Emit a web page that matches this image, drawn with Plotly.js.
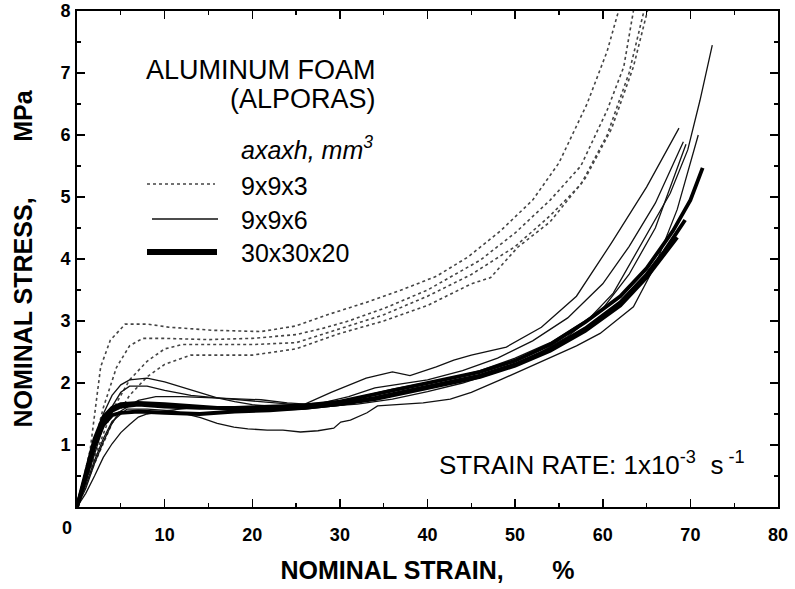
<!DOCTYPE html>
<html>
<head>
<meta charset="utf-8">
<script src="https://cdn.plot.ly/plotly-3.0.1.min.js"></script>
<style>html,body{margin:0;padding:0;background:#fff;}#chart{width:795px;height:589px;}</style>
</head>
<body>
<div id="chart"></div>
<script>
// ---------- data: nominal strain (%) vs nominal stress (MPa) ----------
// 9x9x3 specimens (grey, dotted)
const strain_993_a = [0,1.5,2.7,3.8,5.5,8,10.5,15.5,21,25,29,33,37,41,44.6,48.3,52,55,58.2,60.5,61.8];
const stress_993_a = [0,0.92,2.26,2.69,2.95,2.95,2.9,2.85,2.83,2.92,3.12,3.3,3.5,3.72,4.03,4.45,4.95,5.55,6.5,7.35,8.0];
const strain_993_b = [0,1.5,3,4.5,6,7.5,10,15,20,25,28,31,35,40,46,50,54,57.5,60.5,62.4,63.5];
const stress_993_b = [0,0.75,1.6,2.25,2.6,2.72,2.72,2.7,2.72,2.78,2.88,3.0,3.2,3.5,3.98,4.42,4.95,5.5,6.4,7.1,8.0];
const strain_993_c = [0,2,4,6,8,10,12,15,20,25,30,35,40,45,50,54,57.5,60.5,63,64.7];
const stress_993_c = [0,0.8,1.55,2.05,2.35,2.55,2.62,2.62,2.62,2.65,2.88,3.1,3.4,3.75,4.2,4.7,5.2,6.0,7.0,8.0];
const strain_993_d = [0,2,4,6,8,10,13,16,20,25,30,35,40,45,47.2,50.3,54,58,61,63.5,65.1];
const stress_993_d = [0,0.7,1.35,1.8,2.1,2.3,2.45,2.45,2.45,2.55,2.8,3.0,3.25,3.6,3.7,4.19,4.6,5.3,6.1,7.1,8.0];

// 9x9x6 specimens (thin black)
const strain_996_a = [0,1,2,3,4,5,6,8,10,12,14,16,18,20,23,26,29,33,36,38,41,43,45,49,53,57,61,65,68.7];
const stress_996_a = [0,0.5,1.05,1.5,1.8,1.97,2.05,2.08,2.02,1.93,1.84,1.76,1.7,1.65,1.62,1.66,1.85,2.08,2.18,2.12,2.26,2.37,2.45,2.58,2.9,3.4,4.26,5.16,6.11];
const strain_996_b = [0,1,2,3,4,5,6,8,10,13,16,19,22,25,28,31,34,37,40,44,48,52,56,60,63,66,69.2];
const stress_996_b = [0,0.4,0.85,1.3,1.62,1.85,1.95,1.95,1.88,1.8,1.76,1.72,1.68,1.65,1.68,1.78,1.92,1.98,2.05,2.2,2.4,2.68,3.05,3.6,4.2,4.9,5.89];
const strain_996_c = [0,1,2,3,4,5.7,8,11,14.1,16,17.9,19.5,21.7,23.5,25.5,27.5,29.3,30.1,31.2,33.1,34.3,36.9,39.5,42.6,45,48.3,51,54,57,59.7,63.5,66,68.5,70.9];
const stress_996_c = [0,0.35,0.75,1.1,1.38,1.58,1.58,1.55,1.44,1.35,1.29,1.26,1.24,1.24,1.21,1.23,1.27,1.37,1.4,1.52,1.63,1.66,1.68,1.74,1.85,2.05,2.22,2.42,2.6,2.8,3.23,3.9,4.8,6.0];
const strain_996_d = [0,1,2,3,4,5,7,9,12,15,18,21,24,27,30,33,36,39,42,46,50,54,58.6,61.2,65.1,67.7,69.7,71.1,72.5];
const stress_996_d = [0,0.3,0.7,1.05,1.35,1.55,1.72,1.78,1.78,1.76,1.75,1.73,1.68,1.65,1.7,1.8,1.9,1.98,2.05,2.2,2.4,2.65,3.06,3.45,4.43,5.06,5.76,6.56,7.45];
const strain_996_e = [0,1,2,3,4,5,6,7,8,10,13,16,20,24,28,32,36,40,44,48,52,56,60,63,66,69.5];
const stress_996_e = [0,0.22,0.5,0.8,1.02,1.2,1.33,1.45,1.5,1.55,1.6,1.6,1.58,1.6,1.62,1.66,1.74,1.86,2.0,2.18,2.42,2.75,3.2,3.75,4.5,5.85];

// 30x30x20 specimens (thick black)
const strain_303020_a = [0,1,2,3,4,5,7,10,14,18,22,26,30,34,38,42,46,50,54,58,62,65,68,70,71.4];
const stress_303020_a = [0,0.5,1.0,1.38,1.55,1.62,1.65,1.62,1.6,1.6,1.62,1.64,1.7,1.82,1.94,2.05,2.18,2.36,2.62,2.98,3.4,3.85,4.45,4.95,5.47];
const strain_303020_b = [0,1,2,3,4,5,7,10,14,18,22,26,30,34,38,42,46,50,54,58,62,65,67,69.4];
const stress_303020_b = [0,0.55,1.1,1.45,1.6,1.66,1.68,1.66,1.62,1.58,1.58,1.6,1.66,1.76,1.88,2.0,2.12,2.3,2.55,2.88,3.3,3.75,4.12,4.63];
const strain_303020_c = [0,1,2,3,4,5,7,10,14,18,22,26,30,34,38,42,46,50,54,58,62,65,68.5];
const stress_303020_c = [0,0.48,0.98,1.32,1.48,1.52,1.54,1.52,1.5,1.54,1.56,1.6,1.66,1.74,1.86,1.98,2.1,2.28,2.52,2.84,3.25,3.7,4.35];

const legendLabels = ["9x9x3", "9x9x6", "30x30x20"];
const xTickVals = [10,20,30,40,50,60,70,80];
const yTickVals = [1,2,3,4,5,6,7,8];

// ---------- styles ----------
const styles = {
  "9x9x3":    {color:"#444444", width:1.6, dash:"dot"},
  "9x9x6":    {color:"#111111", width:1.3, dash:"solid"},
  "30x30x20": {color:"#000000", width:3.8, dash:"solid"}
};

const groups = [
  ["9x9x3", [[strain_993_a,stress_993_a],[strain_993_b,stress_993_b],[strain_993_c,stress_993_c],[strain_993_d,stress_993_d]]],
  ["9x9x6", [[strain_996_a,stress_996_a],[strain_996_b,stress_996_b],[strain_996_c,stress_996_c],[strain_996_d,stress_996_d],[strain_996_e,stress_996_e]]],
  ["30x30x20", [[strain_303020_a,stress_303020_a],[strain_303020_b,stress_303020_b],[strain_303020_c,stress_303020_c]]]
];

const traces = [];
groups.forEach(([name, curves]) => {
  curves.forEach(([xs, ys]) => {
    traces.push({
      type:"scatter", mode:"lines", x:xs, y:ys, name:name,
      legendgroup:name, showlegend:false, hoverinfo:"skip",
      line:{color:styles[name].color, width:styles[name].width, dash:styles[name].dash, shape:"linear"}
    });
  });
});

// ---------- layout ----------
const L = 77, R = 17, T = 11, B = 82, W = 795, H = 589;
const pw = W - L - R, ph = H - T - B;
const px = v => (v - L) / pw;          // pixel -> paper x
const py = v => (H - B - v) / ph;      // pixel -> paper y

const keyRows = [
  {label:legendLabels[0], x0:147, x1:215, y:184, style:styles["9x9x3"], w:1.6, ty:186},
  {label:legendLabels[1], x0:152, x1:218, y:219, style:styles["9x9x6"], w:1.3, ty:220},
  {label:legendLabels[2], x0:147, x1:217, y:252, style:styles["30x30x20"], w:6, ty:253}
];

const shapes = keyRows.map(r => ({
  type:"line", xref:"paper", yref:"paper",
  x0:px(r.x0), x1:px(r.x1), y0:py(r.y), y1:py(r.y),
  line:{color:r.style.color, width:r.w, dash:r.style.dash}
}));

const baseFont = {family:"Liberation Sans, Arial, Helvetica, sans-serif", color:"#000"};
const nb = n => "\u00a0".repeat(n);

const annotations = [
  {text:"ALUMINUM FOAM", x:px(378), y:py(70), xanchor:"right", yanchor:"middle", font:{...baseFont, size:27}},
  {text:"(ALPORAS)", x:px(378), y:py(99), xanchor:"right", yanchor:"middle", font:{...baseFont, size:27}},
  {text:"<i>axaxh, mm<sup>3</sup></i>", x:px(239), y:py(148), xanchor:"left", yanchor:"middle", font:{...baseFont, size:25}},
  {text:"STRAIN RATE: 1x10<sup>-3</sup>" + nb(2) + "s<sup> -1</sup>", x:px(437), y:py(463), xanchor:"left", yanchor:"middle", font:{...baseFont, size:26}},
  {text:"0", x:px(67), y:py(528), xanchor:"center", yanchor:"middle", font:{...baseFont, size:18, weight:"bold"}}
].concat(keyRows.map(r => ({
  text:r.label, x:px(239), y:py(r.ty), xanchor:"left", yanchor:"middle", font:{...baseFont, size:25}
})));
annotations.forEach(a => { a.xref = "paper"; a.yref = "paper"; a.showarrow = false; });

const axisCommon = {
  showline:true, linecolor:"#000", linewidth:2, mirror:"ticks",
  ticks:"inside", ticklen:8, tickwidth:1.5, tickcolor:"#000",
  showgrid:false, zeroline:false, fixedrange:true,
  tickfont:{...baseFont, size:18, weight:"bold"}
};

const layout = {
  width:W, height:H,
  margin:{l:L, r:R, t:T, b:B, pad:0},
  paper_bgcolor:"#fff", plot_bgcolor:"#fff",
  showlegend:false,
  font:baseFont,
  xaxis:{...axisCommon, range:[0,80], tickmode:"array", tickvals:xTickVals,
    ticklabelstandoff:10,
    minor:{dtick:5, ticks:"inside", ticklen:4, tickwidth:1.2, tickcolor:"#000"},
    title:{text:"NOMINAL STRAIN," + nb(7) + "%", font:{...baseFont, size:25, weight:"bold"}, standoff:18}},
  yaxis:{...axisCommon, range:[0,8], tickmode:"array", tickvals:yTickVals,
    ticklabelstandoff:1,
    minor:{dtick:0.5, ticks:"inside", ticklen:4, tickwidth:1.2, tickcolor:"#000"},
    title:{text:"NOMINAL STRESS," + nb(8) + "MPa", font:{...baseFont, size:25, weight:"bold"}, standoff:21}},
  shapes:shapes,
  annotations:annotations
};

Plotly.newPlot("chart", traces, layout, {staticPlot:true, displayModeBar:false});
</script>
</body>
</html>
